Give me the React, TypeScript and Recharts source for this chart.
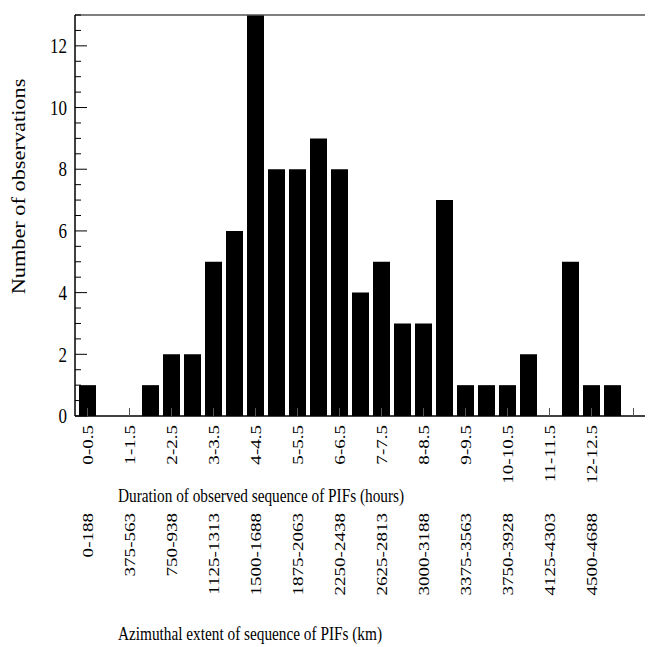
import { BarChart, Bar, XAxis, YAxis, ReferenceLine } from 'recharts';

// duration bins (hours), one per bar
const bins = [
  '0-0.5', '0.5-1', '1-1.5', '1.5-2', '2-2.5', '2.5-3', '3-3.5', '3.5-4', '4-4.5',
  '4.5-5', '5-5.5', '5.5-6', '6-6.5', '6.5-7', '7-7.5', '7.5-8', '8-8.5', '8.5-9',
  '9-9.5', '9.5-10', '10-10.5', '10.5-11', '11-11.5', '11.5-12', '12-12.5', '12.5-13', '13-13.5',
];
const counts = [1, 0, 0, 1, 2, 2, 5, 6, 13, 8, 8, 9, 8, 4, 5, 3, 3, 7, 1, 1, 1, 2, 0, 5, 1, 1, 0];

// labelled ticks
const hourTicks = [
  '0-0.5', '1-1.5', '2-2.5', '3-3.5', '4-4.5', '5-5.5', '6-6.5',
  '7-7.5', '8-8.5', '9-9.5', '10-10.5', '11-11.5', '12-12.5',
];
const kmTicks = [
  '0-188', '375-563', '750-938', '1125-1313', '1500-1688', '1875-2063', '2250-2438',
  '2625-2813', '3000-3188', '3375-3563', '3750-3928', '4125-4303', '4500-4688',
];
const yTicks = [0, 0.5, 1, 1.5, 2, 2.5, 3, 3.5, 4, 4.5, 5, 5.5, 6, 6.5, 7, 7.5, 8, 8.5, 9, 9.5, 10, 10.5, 11, 11.5, 12, 12.5, 13];

const data = bins.map((bin, i) => ({ bin, count: counts[i] }));

const FONT = '"Liberation Serif", "Times New Roman", serif';
const SY = 1.22; // the scan is a bit taller than wide

function LeftTick(props: any) {
  const { x, y, payload } = props;
  const v = payload.value;
  const major = v % 2 === 0;
  return (
    <g>
      <line x1={x} y1={y} x2={x + (major ? 12 : 6)} y2={y} stroke="#000" />
      {major && (
        <text transform={`translate(${x - 8},${y}) scale(1,${SY})`} textAnchor="end" dy="0.35em"
          fontSize={17} fill="#000" fontFamily={FONT}>{v}</text>
      )}
    </g>
  );
}

function RightTick(props: any) {
  const { x, y, payload } = props;
  const major = payload.value % 2 === 0;
  return <line x1={x} y1={y} x2={x - (major ? 11 : 5)} y2={y} stroke="#333" />;
}

function XTick(props: any) {
  const { x, y, payload } = props;
  const i = bins.indexOf(payload.value);
  if (i % 2 !== 0) return <g />;
  const j = hourTicks.indexOf(payload.value);
  return (
    <g>
      <line x1={x} y1={y} x2={x} y2={y - 8} stroke="#555" />
      {j >= 0 && (
        <>
          <text transform={`translate(${x},${y + 9}) scale(1,${SY}) rotate(-90)`} textAnchor="end" dy="0.35em"
            fontSize={15.6} fill="#000" fontFamily={FONT}>{hourTicks[j]}</text>
          <text transform={`translate(${x},${y + 97}) scale(1,${SY}) rotate(-90)`} textAnchor="end" dy="0.35em"
            fontSize={15.6} fill="#000" fontFamily={FONT}>{kmTicks[j]}</text>
        </>
      )}
    </g>
  );
}

function XTitles(props: any) {
  const { x, y } = props.viewBox;
  return (
    <g fontFamily={FONT} fontSize={15.3} fill="#000">
      <text transform={`translate(${x + 43},${y + 86}) scale(1,${SY})`}>Duration of observed sequence of PIFs (hours)</text>
      <text transform={`translate(${x + 43},${y + 224}) scale(1,${SY})`}>Azimuthal extent of sequence of PIFs (km)</text>
    </g>
  );
}

function YTitle(props: any) {
  const { x, y, height } = props.viewBox;
  return (
    <text transform={`translate(${x + 17},${y + height / 2 - 29}) scale(1,${SY}) rotate(-90)`}
      textAnchor="middle" fontFamily={FONT} fontSize={18.3} fill="#000">Number of observations</text>
  );
}

export default function App() {
  return (
    <div style={{ width: 645, height: 639 }}>
      <BarChart width={645} height={639} data={data} barCategoryGap={2}
        margin={{ top: 7, right: 0, bottom: 0, left: 0 }} style={{ fontFamily: FONT }}>
        <XAxis dataKey="bin" interval={0} tick={XTick} tickLine={false} tickSize={0} tickMargin={0}
          height={231} padding={{ left: 2, right: 8 }} axisLine={{ stroke: '#000', strokeWidth: 1.5 }}
          label={XTitles} />
        <YAxis yAxisId="left" domain={[0, 13]} ticks={yTicks} interval={0} tick={LeftTick}
          tickLine={false} tickSize={0} tickMargin={0} width={67}
          axisLine={{ stroke: '#000', strokeWidth: 1.5 }} label={YTitle} />
        <YAxis yAxisId="right" orientation="right" domain={[0, 13]} ticks={yTicks} interval={0}
          tick={RightTick} tickLine={false} tickSize={0} tickMargin={0} width={1} axisLine={false} />
        <ReferenceLine yAxisId="left" y={13} stroke="#555" strokeWidth={1.5} />
        <Bar yAxisId="left" dataKey="count" fill="#000" isAnimationActive={false} />
      </BarChart>
    </div>
  );
}
